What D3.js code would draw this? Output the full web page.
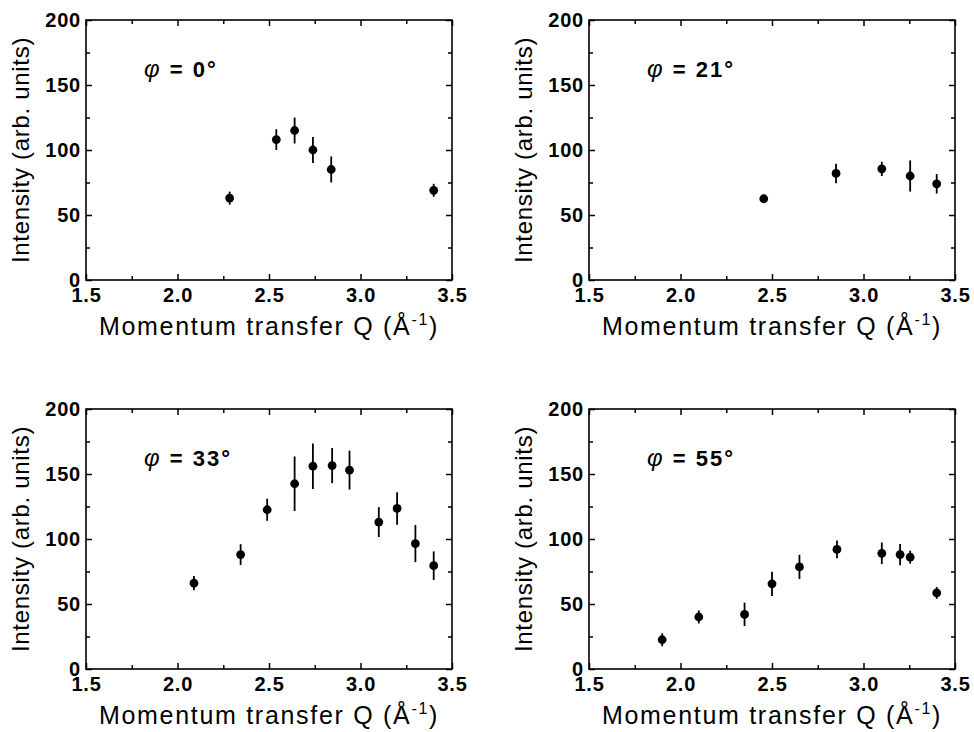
<!DOCTYPE html>
<html>
<head>
<meta charset="utf-8">
<script src="https://cdn.jsdelivr.net/npm/d3@7"></script>
<style>
	body { margin: 0; background: #fff; }
	svg { display: block; }
</style>
</head>
<body>
<svg id="chart" width="974" height="732"></svg>
<script>
// phi = 0 deg
var q0 = [2.285, 2.54, 2.64, 2.74, 2.84, 3.40];
var i0 = [63, 108, 115, 100, 85, 69];
var e0 = [5, 8, 10, 10, 10, 5];

// phi = 21 deg
var q21 = [2.455, 2.85, 3.10, 3.255, 3.40];
var i21 = [62.5, 82, 85.5, 80, 74];
var e21 = [3, 7.5, 5.5, 12, 7.5];

// phi = 33 deg
var q33 = [2.09, 2.345, 2.49, 2.64, 2.74, 2.845, 2.94, 3.10, 3.20, 3.30, 3.40];
var i33 = [66, 88, 122.5, 142.5, 156, 156.5, 153, 113, 123.5, 96.5, 79.5];
var e33 = [5.5, 8, 8.5, 21, 17.5, 13.5, 15, 11.5, 12.5, 14.3, 11];

// phi = 55 deg
var q55 = [1.90, 2.10, 2.35, 2.50, 2.65, 2.855, 3.10, 3.20, 3.255, 3.40];
var i55 = [22.5, 40, 42, 65.5, 78.5, 92, 89, 88, 86, 58.5];
var e55 = [5, 5, 9, 9.3, 9.3, 6.8, 8.3, 8.2, 5, 4.5];

var angles = ["0", "21", "33", "55"];

var xDomain = [1.5, 3.5];
var yDomain = [0, 200];
var xMajor = [1.5, 2.0, 2.5, 3.0, 3.5];
var xMinor = [1.75, 2.25, 2.75, 3.25];
var yMajor = [0, 50, 100, 150, 200];
var yMinor = [25, 75, 125, 175];

var font = "'Liberation Sans', Arial, Helvetica, sans-serif";

var panelW = 366;
var panelH = 260;
var panels = [
	{left: 86, top: 20, q: q0, v: i0, e: e0, angle: angles[0]},
	{left: 589, top: 20, q: q21, v: i21, e: e21, angle: angles[1]},
	{left: 86, top: 409, q: q33, v: i33, e: e33, angle: angles[2]},
	{left: 589, top: 409, q: q55, v: i55, e: e55, angle: angles[3]},
];

var svg = d3.select("#chart");

function translate(x, y) {
	return "translate(" + x + "," + y + ")";
}

function styleAxis(g) {
	g.selectAll("path.domain").remove();
	g.selectAll("line").attr("stroke", "#000").attr("stroke-width", 1.5);
	g.selectAll("text")
		.attr("font-family", font)
		.attr("font-weight", "bold")
		.attr("font-size", 20)
		.attr("letter-spacing", 0.8)
		.attr("fill", "#000");
}

function drawPanel(p) {
	var g = svg.append("g").attr("transform", translate(p.left, p.top));
	var x = d3.scaleLinear().domain(xDomain).range([0, panelW]);
	var y = d3.scaleLinear().domain(yDomain).range([panelH, 0]);

	// major ticks with labels, minor ticks without, all pointing inward
	g.append("g").attr("transform", translate(0, panelH))
		.call(d3.axisBottom(x).tickValues(xMajor).tickSize(-6).tickPadding(8)
			.tickFormat(d3.format(".1f")))
		.call(styleAxis);
	g.append("g").attr("transform", translate(0, panelH))
		.call(d3.axisBottom(x).tickValues(xMinor).tickSize(-4).tickFormat(""))
		.call(styleAxis);
	g.append("g")
		.call(d3.axisTop(x).tickValues(xMajor).tickSize(-6).tickFormat(""))
		.call(styleAxis);
	g.append("g")
		.call(d3.axisTop(x).tickValues(xMinor).tickSize(-4).tickFormat(""))
		.call(styleAxis);
	g.append("g")
		.call(d3.axisLeft(y).tickValues(yMajor).tickSize(-6).tickPadding(5)
			.tickFormat(d3.format("d")))
		.call(styleAxis);
	g.append("g")
		.call(d3.axisLeft(y).tickValues(yMinor).tickSize(-4).tickFormat(""))
		.call(styleAxis);
	g.append("g").attr("transform", translate(panelW, 0))
		.call(d3.axisRight(y).tickValues(yMajor).tickSize(-6).tickFormat(""))
		.call(styleAxis);
	g.append("g").attr("transform", translate(panelW, 0))
		.call(d3.axisRight(y).tickValues(yMinor).tickSize(-4).tickFormat(""))
		.call(styleAxis);

	// frame
	g.append("rect")
		.attr("width", panelW).attr("height", panelH)
		.attr("fill", "none").attr("stroke", "#000").attr("stroke-width", 1.6);

	var pts = p.q.map(function(q, i) {
		return {q: q, v: p.v[i], e: p.e[i]};
	});

	g.selectAll("line.err").data(pts).enter().append("line")
		.attr("class", "err")
		.attr("x1", function(d) { return x(d.q); })
		.attr("x2", function(d) { return x(d.q); })
		.attr("y1", function(d) { return y(d.v - d.e); })
		.attr("y2", function(d) { return y(d.v + d.e); })
		.attr("stroke", "#000").attr("stroke-width", 1.8);

	g.selectAll("circle.pt").data(pts).enter().append("circle")
		.attr("class", "pt")
		.attr("cx", function(d) { return x(d.q); })
		.attr("cy", function(d) { return y(d.v); })
		.attr("r", 4.4)
		.attr("fill", "#000");

	// phi label
	var lab = g.append("text")
		.attr("x", 58).attr("y", 57)
		.attr("font-family", font).attr("font-size", 22)
		.attr("letter-spacing", 2).attr("fill", "#000");
	lab.append("tspan").attr("font-style", "italic").attr("font-size", 24).text("\u03C6");
	lab.append("tspan").attr("font-weight", "bold").text(" = " + p.angle + "\u00B0");

	// axis titles
	var xt = g.append("text")
		.attr("x", panelW / 2).attr("y", panelH + 55)
		.attr("text-anchor", "middle")
		.attr("font-family", font).attr("font-size", 25)
		.attr("letter-spacing", 1.7).attr("fill", "#000");
	xt.append("tspan").text("Momentum transfer Q (\u00C5");
	xt.append("tspan").attr("dy", -10).attr("font-size", 16).text("-1");
	xt.append("tspan").attr("dy", 10).text(")");

	g.append("text")
		.attr("transform", translate(-57, panelH / 2) + " rotate(-90)")
		.attr("text-anchor", "middle")
		.attr("font-family", font).attr("font-size", 24)
		.attr("letter-spacing", 0.7).attr("fill", "#000")
		.text("Intensity (arb. units)");
}

panels.forEach(drawPanel);
</script>
</body>
</html>
